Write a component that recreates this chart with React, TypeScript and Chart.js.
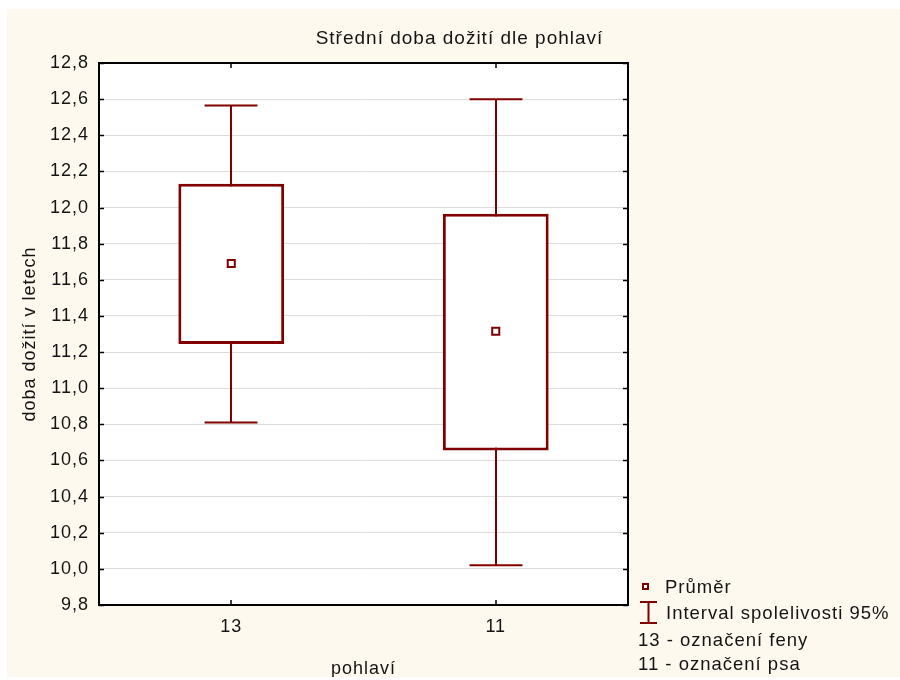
import { useEffect, useRef } from "react";
import { Chart, registerables } from "chart.js";

Chart.register(...registerables);

// Life expectancy by sex: box = mean ± spread, whiskers = 95% confidence interval
const CATEGORIES = ["13", "11"];
const BOX_LOW = [11.245, 10.655];
const BOX_HIGH = [12.132, 11.966];
const MEANS = [11.69, 11.315];
const CI_LOW = [10.81, 10.02];
const CI_HIGH = [12.565, 12.6];
const Y_TICKS = [9.8, 10.0, 10.2, 10.4, 10.6, 10.8, 11.0, 11.2, 11.4, 11.6, 11.8, 12.0, 12.2, 12.4, 12.6, 12.8];

const TITLE = "Střední doba dožití dle pohlaví";
const X_TITLE = "pohlaví";
const Y_TITLE = "doba dožití v letech";
const LEGEND_MEAN = "Průměr";
const LEGEND_CI = "Interval spolelivosti 95%";
const NOTES = ["13 - označení feny", "11 - označení psa"];

const MAROON = "#800000";
const PANEL = "#fdf9ef";
const INK = "#141414";
const FONT = "'Liberation Sans', Arial, sans-serif";
const W = 893;
const H = 668;

const decorations = {
  id: "decorations",
  beforeUpdate(chart: any) {
    chart.ctx.letterSpacing = "1px";
  },
  beforeDraw(chart: any) {
    const { ctx, width, height, chartArea: a } = chart;
    ctx.save();
    ctx.fillStyle = PANEL;
    ctx.fillRect(0, 0, width, height);
    ctx.fillStyle = "#ffffff";
    ctx.fillRect(a.left, a.top, a.right - a.left, a.bottom - a.top);
    ctx.restore();
    ctx.letterSpacing = "1px";
  },
  beforeDatasetsDraw(chart: any) {
    const { ctx } = chart;
    const x = chart.scales.x;
    const y = chart.scales.y;
    const bars = chart.getDatasetMeta(0).data;
    ctx.save();
    ctx.strokeStyle = MAROON;
    ctx.lineWidth = 2;
    CATEGORIES.forEach((_, i) => {
      const cx = Math.round(x.getPixelForValue(i));
      const half = bars[i].width / 4;
      const yl = y.getPixelForValue(CI_LOW[i]);
      const yh = y.getPixelForValue(CI_HIGH[i]);
      ctx.beginPath();
      ctx.moveTo(cx, yl);
      ctx.lineTo(cx, yh);
      ctx.moveTo(cx - half, yl);
      ctx.lineTo(cx + half, yl);
      ctx.moveTo(cx - half, yh);
      ctx.lineTo(cx + half, yh);
      ctx.stroke();
    });
    ctx.restore();
  },
  afterDatasetsDraw(chart: any) {
    const { ctx, chartArea: a } = chart;
    const x = chart.scales.x;
    const y = chart.scales.y;
    ctx.save();
    ctx.strokeStyle = "#000000";
    ctx.lineWidth = 2;
    ctx.strokeRect(a.left, a.top, a.right - a.left, a.bottom - a.top);
    ctx.lineWidth = 1.5;
    ctx.beginPath();
    Y_TICKS.forEach((v) => {
      const py = Math.round(y.getPixelForValue(v)) + 0.5;
      ctx.moveTo(a.left, py);
      ctx.lineTo(a.left + 5, py);
      ctx.moveTo(a.right, py);
      ctx.lineTo(a.right - 5, py);
    });
    CATEGORIES.forEach((_, i) => {
      const px = Math.round(x.getPixelForValue(i));
      ctx.moveTo(px, a.top);
      ctx.lineTo(px, a.top + 5);
      ctx.moveTo(px, a.bottom);
      ctx.lineTo(px, a.bottom - 5);
    });
    ctx.stroke();
    ctx.restore();
  },
  afterDraw(chart: any) {
    const { ctx, chartArea: a, width } = chart;
    ctx.save();
    ctx.letterSpacing = "1px";
    ctx.fillStyle = INK;
    ctx.textBaseline = "alphabetic";

    // chart title
    ctx.font = `19px ${FONT}`;
    ctx.textAlign = "center";
    ctx.fillText(TITLE, width / 2 + 6, 35);

    // legend in the lower right corner
    ctx.font = `18.5px ${FONT}`;
    ctx.textAlign = "left";
    const b = a.bottom;
    const r = a.right;

    ctx.strokeStyle = MAROON;
    ctx.lineWidth = 2;
    ctx.fillStyle = "#ffffff";
    ctx.fillRect(r + 15, b - 21, 5, 5);
    ctx.strokeRect(r + 15, b - 21, 5, 5);

    const wx = r + 20.5;
    ctx.beginPath();
    ctx.moveTo(wx, b - 3);
    ctx.lineTo(wx, b + 18);
    ctx.moveTo(wx - 8.5, b - 3);
    ctx.lineTo(wx + 8.5, b - 3);
    ctx.moveTo(wx - 8.5, b + 18);
    ctx.lineTo(wx + 8.5, b + 18);
    ctx.stroke();

    ctx.fillStyle = INK;
    ctx.fillText(LEGEND_MEAN, r + 37, b - 12);
    ctx.fillText(LEGEND_CI, r + 38, b + 14);
    ctx.fillText(NOTES[0], r + 10, b + 40.5);
    ctx.fillText(NOTES[1], r + 10, b + 64.5);
    ctx.restore();
  },
};

export default function App() {
  const canvasRef = useRef<HTMLCanvasElement | null>(null);

  useEffect(() => {
    const canvas = canvasRef.current;
    if (!canvas) return;
    const prevMargin = document.body.style.margin;
    document.body.style.margin = "0";

    Chart.defaults.font.family = FONT;
    Chart.defaults.font.size = 18;
    Chart.defaults.color = INK;

    const chart = new Chart(canvas, {
      type: "bar",
      data: {
        labels: CATEGORIES,
        datasets: [
          {
            type: "bar",
            label: "box",
            data: CATEGORIES.map((_, i) => [BOX_LOW[i], BOX_HIGH[i]]) as any,
            backgroundColor: "#ffffff",
            borderColor: MAROON,
            borderWidth: 3,
            borderSkipped: false,
            barPercentage: 0.4,
            categoryPercentage: 1,
            order: 1,
          },
          {
            type: "line",
            label: LEGEND_MEAN,
            data: MEANS,
            showLine: false,
            pointStyle: "rect",
            pointRadius: 5,
            pointBorderWidth: 2,
            pointBorderColor: MAROON,
            pointBackgroundColor: "#ffffff",
            order: 0,
          },
        ],
      },
      options: {
        animation: false,
        responsive: false,
        layout: { padding: { top: 54, right: 272, left: 0, bottom: 0 } },
        plugins: {
          legend: { display: false },
          tooltip: { enabled: false },
          title: { display: false },
        },
        scales: {
          x: {
            type: "category",
            offset: true,
            afterFit: (s: any) => {
              s.height = 72;
            },
            grid: { display: false, drawTicks: false },
            border: { display: false },
            ticks: { padding: 11, color: INK, font: { size: 18 } },
            title: {
              display: true,
              text: X_TITLE,
              color: INK,
              font: { size: 18, lineHeight: 0.85 },
              padding: { top: 0, bottom: 0 },
            },
          },
          y: {
            type: "linear",
            min: 9.8,
            max: 12.8,
            afterBuildTicks: (s: any) => {
              s.ticks = Y_TICKS.map((v) => ({ value: v }));
            },
            afterFit: (s: any) => {
              s.width = 92;
            },
            grid: { color: "#dcdcdc", lineWidth: 1, drawTicks: false },
            border: { display: false },
            ticks: {
              padding: 10,
              color: INK,
              font: { size: 18 },
              callback: (v: any) => Number(v).toFixed(1).replace(".", ","),
            },
            title: {
              display: true,
              text: Y_TITLE,
              color: INK,
              font: { size: 18 },
              padding: { top: 12, bottom: 0 },
            },
          },
        },
      },
      plugins: [decorations],
    });

    return () => {
      chart.destroy();
      document.body.style.margin = prevMargin;
    };
  }, []);

  return (
    <div style={{ width: 900, paddingTop: 9, paddingLeft: 7, boxSizing: "border-box" }}>
      <canvas ref={canvasRef} width={W} height={H} style={{ display: "block" }} />
    </div>
  );
}
